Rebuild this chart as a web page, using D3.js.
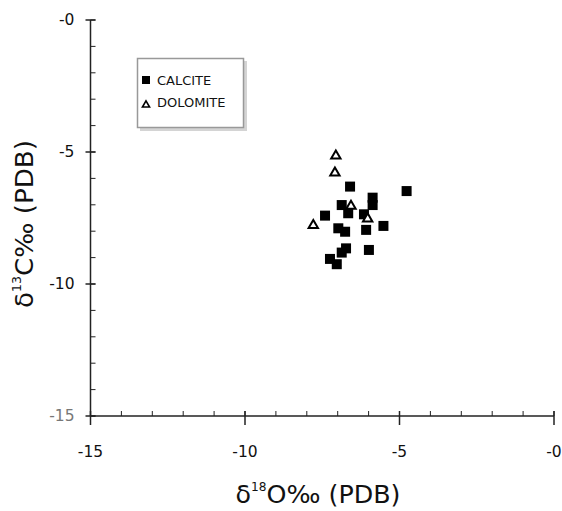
<!DOCTYPE html>
<html>
<head>
<meta charset="utf-8">
<script src="https://cdn.jsdelivr.net/npm/d3@7"></script>
<style>
  body { margin: 0; background: #fff; }
  svg { font-family: 'DejaVu Sans', sans-serif; }
</style>
</head>
<body>
<svg id="chart" width="562" height="511"></svg>
<script>
(function () {
    'use strict';

    // calcite samples: [d18O, d13C]
    let calciteO = [-6.60, -4.77, -5.87, -5.87, -6.87, -6.66, -6.15, -7.41, -6.98, -6.76, -6.08, -5.52, -6.73, -6.87, -5.99, -7.25, -7.03];
    let calciteC = [-6.31, -6.48, -6.73, -7.01, -7.01, -7.32, -7.36, -7.41, -7.89, -8.02, -7.95, -7.80, -8.65, -8.81, -8.71, -9.05, -9.25];

    // dolomite samples
    let dolomiteO = [-7.06, -7.09, -6.57, -6.03, -7.79];
    let dolomiteC = [-5.11, -5.75, -7.01, -7.49, -7.74];

    let majorTicks = [-15, -10, -5, 0];
    let minorTicks = d3.range(-15, 1, 1);
    let legendNames = ['CALCITE', 'DOLOMITE'];

    let svg = d3.select('#chart');

    let x = d3.scaleLinear().domain([-15, 0]).range([90.5, 554]);
    let y = d3.scaleLinear().domain([0, -15]).range([20, 416]);

    let axisColor = '#222';

    // y axis
    let yAxis = svg.append('g').attr('class', 'y-axis');
    yAxis.append('line')
        .attr('x1', x(-15)).attr('x2', x(-15))
        .attr('y1', y(0)).attr('y2', y(-15))
        .attr('stroke', axisColor).attr('stroke-width', 1.5);
    yAxis.selectAll('.minor')
        .data(minorTicks)
        .enter().append('line')
        .attr('x1', x(-15)).attr('x2', x(-15) + 5)
        .attr('y1', function (d) { return y(d); })
        .attr('y2', function (d) { return y(d); })
        .attr('stroke', axisColor).attr('stroke-width', 1);
    yAxis.selectAll('.major')
        .data(majorTicks)
        .enter().append('line')
        .attr('x1', x(-15) - 5).attr('x2', x(-15) + 5)
        .attr('y1', function (d) { return y(d); })
        .attr('y2', function (d) { return y(d); })
        .attr('stroke', axisColor).attr('stroke-width', 1.5);
    yAxis.selectAll('text')
        .data(majorTicks)
        .enter().append('text')
        .attr('x', x(-15) - 16)
        .attr('y', function (d) { return y(d) + 5; })
        .attr('text-anchor', 'end')
        .attr('font-size', 15.5)
        .attr('fill', function (d) { return d == -15 ? '#777' : '#111'; })
        .text(function (d) { return '-' + Math.abs(d); });

    // x axis
    let xAxis = svg.append('g').attr('class', 'x-axis');
    xAxis.append('line')
        .attr('x1', x(-15)).attr('x2', x(0))
        .attr('y1', y(-15)).attr('y2', y(-15))
        .attr('stroke', axisColor).attr('stroke-width', 1.5);
    xAxis.selectAll('.minor')
        .data(minorTicks)
        .enter().append('line')
        .attr('x1', function (d) { return x(d); })
        .attr('x2', function (d) { return x(d); })
        .attr('y1', y(-15) - 5).attr('y2', y(-15))
        .attr('stroke', axisColor).attr('stroke-width', 1);
    xAxis.selectAll('.major')
        .data(majorTicks)
        .enter().append('line')
        .attr('x1', function (d) { return x(d); })
        .attr('x2', function (d) { return x(d); })
        .attr('y1', y(-15) - 5).attr('y2', y(-15) + 9)
        .attr('stroke', axisColor).attr('stroke-width', 1.5);
    xAxis.selectAll('text')
        .data(majorTicks)
        .enter().append('text')
        .attr('x', function (d) { return x(d); })
        .attr('y', y(-15) + 41)
        .attr('text-anchor', 'middle')
        .attr('font-size', 15.5)
        .attr('fill', '#111')
        .text(function (d) { return '-' + Math.abs(d); });

    // axis titles
    let xTitle = svg.append('text')
        .attr('x', 318).attr('y', 503)
        .attr('text-anchor', 'middle')
        .attr('font-size', 25)
        .attr('textLength', 165)
        .attr('lengthAdjust', 'spacingAndGlyphs')
        .attr('fill', '#111');
    xTitle.append('tspan').text('\u03b4');
    xTitle.append('tspan').attr('font-size', 12).attr('dy', -12).text('18');
    xTitle.append('tspan').attr('dy', 12).text('O\u2030 (PDB)');

    let yTitle = svg.append('text')
        .attr('transform', 'translate(33,224) rotate(-90)')
        .attr('text-anchor', 'middle')
        .attr('font-size', 25)
        .attr('textLength', 168)
        .attr('lengthAdjust', 'spacingAndGlyphs')
        .attr('fill', '#111');
    yTitle.append('tspan').text('\u03b4');
    yTitle.append('tspan').attr('font-size', 12).attr('dy', -12).text('13');
    yTitle.append('tspan').attr('dy', 12).text('C\u2030 (PDB)');

    // points
    let calcite = calciteO.map(function (d, i) { return [d, calciteC[i]]; });
    let dolomite = dolomiteO.map(function (d, i) { return [d, dolomiteC[i]]; });

    let sq = 10;
    svg.append('g').selectAll('rect')
        .data(calcite)
        .enter().append('rect')
        .attr('x', function (d) { return x(d[0]) - sq / 2; })
        .attr('y', function (d) { return y(d[1]) - sq / 2; })
        .attr('width', sq).attr('height', sq)
        .attr('fill', '#000');

    let tri = d3.symbol().type(d3.symbolTriangle).size(38);
    svg.append('g').selectAll('path')
        .data(dolomite)
        .enter().append('path')
        .attr('d', tri)
        .attr('transform', function (d) { return 'translate(' + x(d[0]) + ',' + (y(d[1]) + 1) + ')'; })
        .attr('fill', '#fff')
        .attr('stroke', '#000')
        .attr('stroke-width', 2);

    // legend
    let legend = svg.append('g').attr('class', 'legend');
    legend.append('rect')
        .attr('x', 140).attr('y', 61).attr('width', 107).attr('height', 70)
        .attr('fill', '#d4d4d4');
    legend.append('rect')
        .attr('x', 137.5).attr('y', 58.5).attr('width', 106).attr('height', 69)
        .attr('fill', '#fff').attr('stroke', '#999').attr('stroke-width', 1.5);
    legend.append('rect')
        .attr('x', 142).attr('y', 76).attr('width', 8).attr('height', 8)
        .attr('fill', '#000');
    legend.append('path')
        .attr('d', d3.symbol().type(d3.symbolTriangle).size(22))
        .attr('transform', 'translate(146,105)')
        .attr('fill', '#fff').attr('stroke', '#000').attr('stroke-width', 1.6);
    legend.selectAll('text')
        .data(legendNames)
        .enter().append('text')
        .attr('x', 157)
        .attr('y', function (d, i) { return 85 + i * 22; })
        .attr('font-size', 13)
        .attr('fill', '#111')
        .text(function (d) { return d; });
})();
</script>
</body>
</html>
